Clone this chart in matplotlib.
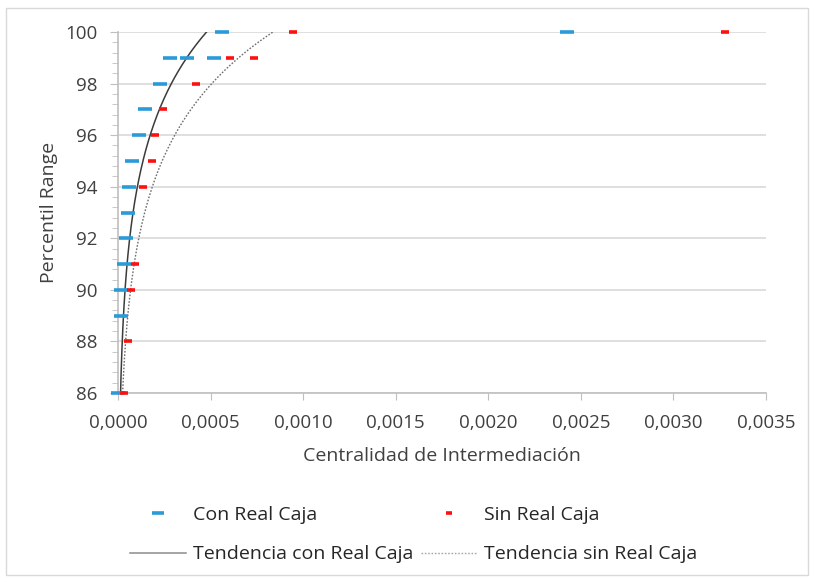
import numpy as np
import matplotlib.pyplot as plt
from matplotlib.ticker import MultipleLocator, AutoMinorLocator, FuncFormatter
from matplotlib.lines import Line2D
from matplotlib.patches import Rectangle

plt.rcParams['font.family'] = ['Open Sans', 'DejaVu Sans']

# percentile vs betweenness centrality
con_y = [100, 100, 99, 99, 99, 98, 97, 96, 95, 94, 93, 92, 91, 90, 89, 86]
con_x = [0.000561, 0.002427, 0.00028, 0.00037, 0.000516, 0.000227, 0.000144,
         0.000115, 0.000078, 0.000058, 0.000053, 0.000045, 0.000032, 0.000018,
         0.000015, 0.0]
sin_y = [100, 100, 99, 99, 98, 97, 96, 95, 94, 91, 90, 88, 86]
sin_x = [0.000943, 0.00328, 0.000606, 0.000732, 0.000422, 0.000245, 0.0002,
         0.000181, 0.000137, 0.00009, 0.000069, 0.000054, 0.000032]

# log trend lines y = a*ln(x) + b, coefficients
trend_con = (3.95, 130.2)
trend_sin = (3.98, 128.2)

blue = '#2A9BD8'
red = '#FF1010'
grey = '#D9D9D9'

fig = plt.figure(figsize=(8.16, 5.8), dpi=100)
ax = fig.add_axes([118/816, 1-393/580, (766-118)/816, (393-32)/580])

yy = np.linspace(85.5, 100.5, 300)
a, b = trend_con
ax.plot(np.exp((yy - b) / a), yy, color='#3C3C3C', lw=1.1, zorder=3)
a, b = trend_sin
ax.plot(np.exp((yy - b) / a), yy, color='#6E6E6E', lw=1.0, ls=(0, (1.2, 1.2)), zorder=3)

ax.plot(con_x, con_y, ls='none', marker='_', ms=10, mew=2.6, color=blue, zorder=4, clip_on=False)
ax.plot(sin_x, sin_y, ls='none', marker='_', ms=6, mew=2.6, color=red, zorder=5, clip_on=False)

ax.set_xlim(0, 0.0035)
ax.set_ylim(86, 100)
ax.xaxis.set_major_locator(MultipleLocator(0.0005))
ax.yaxis.set_major_locator(MultipleLocator(2))
ax.yaxis.set_minor_locator(AutoMinorLocator(5))
ax.xaxis.set_major_formatter(FuncFormatter(lambda v, p: f'{v:.4f}'.replace('.', ',')))
ax.yaxis.set_major_formatter(FuncFormatter(lambda v, p: f'{v:.0f}'))

ax.grid(axis='y', color=grey, lw=1.2)
ax.set_axisbelow(True)
for s in ['top', 'right']:
    ax.spines[s].set_visible(False)
for s in ['left', 'bottom']:
    ax.spines[s].set_color('#BFBFBF')
    ax.spines[s].set_linewidth(1.2)
ax.tick_params(axis='both', colors='#BFBFBF', labelcolor='#404040', labelsize=13.5)
ax.tick_params(axis='y', which='major', length=6, direction='out', pad=9)
ax.tick_params(axis='y', which='minor', length=4, direction='out', color='#BFBFBF')
ax.tick_params(axis='x', which='major', length=5, direction='out', pad=10)

ax.set_xlabel('Centralidad de Intermediación', fontsize=14, color='#404040', labelpad=11)
ax.set_ylabel('Percentil Range', fontsize=14, color='#404040', labelpad=5)

handles = [
    Line2D([], [], ls='none', marker='_', ms=9, mew=2.6, color=blue),
    Line2D([], [], color='#8C8C8C', lw=1.1),
    Line2D([], [], ls='none', marker='_', ms=4, mew=2.6, color=red),
    Line2D([], [], color='#A6A6A6', lw=1.0, ls=(0, (1.2, 1.2))),
]
labels = ['Con Real Caja', 'Tendencia con Real Caja', 'Sin Real Caja', 'Tendencia sin Real Caja']
fig.legend(handles, labels, ncol=2, frameon=False, fontsize=14,
           loc='center', bbox_to_anchor=(0.507, 0.078),
           handlelength=2.9, handletextpad=0.36, columnspacing=0.36, labelspacing=1.1,
           labelcolor='#262626')

fig.patches.append(Rectangle((6/816, 5/580), 802/816, 567/580, transform=fig.transFigure,
                             fill=False, ec='#D9D9D9', lw=1.0))

fig.savefig('out.png', dpi=100)
